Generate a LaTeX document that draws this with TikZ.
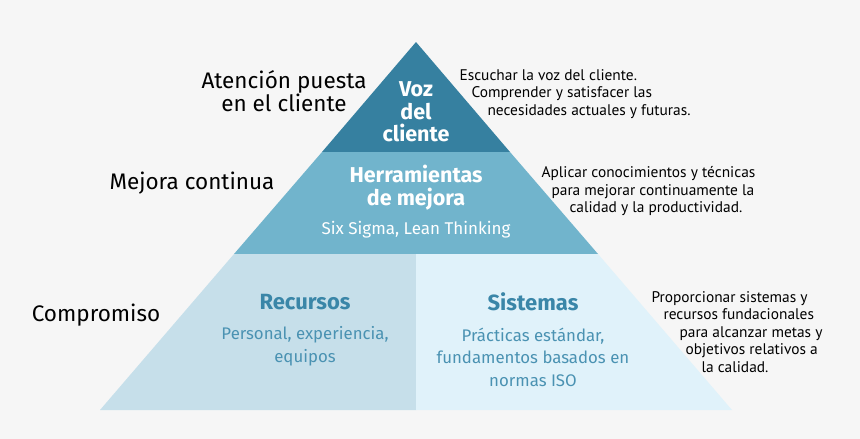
\documentclass[tikz,border=0pt]{standalone}
\usepackage{fontspec}
\setmainfont{Fira Sans}
\newfontfamily\condfont{PT Sans}
\definecolor{bgGray}{HTML}{F6F6F6}
\definecolor{tierTop}{HTML}{3680A0}
\definecolor{tierMid}{HTML}{71B4CC}
\definecolor{tierLeft}{HTML}{C6DFEA}
\definecolor{tierRight}{HTML}{E0F2FA}
\definecolor{titleBlue}{HTML}{3A86A8}
\definecolor{subBlue}{HTML}{4A92B2}
\begin{document}
\begin{tikzpicture}[x=1pt, y=-1pt,
    sidelbl/.style={font=\fontsize{22.5}{23}\selectfont, align=center},
    note/.style={font=\condfont\fontsize{15.4}{17.5}\selectfont, align=left, anchor=north west},
    wtitle/.style={text=white, font=\bfseries\fontsize{21.5}{22.5}\selectfont, align=center},
    btitle/.style={text=titleBlue, font=\bfseries\fontsize{22}{22}\selectfont, align=center},
    bsub/.style={text=subBlue, font=\fontsize{16.8}{22.5}\selectfont, align=center}]
    \useasboundingbox (0,0) rectangle (860,439);
    \fill[bgGray] (0,0) rectangle (860,439);
    % pyramid tiers
    \fill[tierTop] (416,42) -- (510,152) -- (322,152) -- cycle;
    \fill[tierMid] (322,152) -- (510,152) -- (598,254) -- (234,254) -- cycle;
    \fill[tierLeft] (234,254) -- (416,254) -- (416,410) -- (100,410) -- cycle;
    \fill[tierRight] (416,254) -- (598,254) -- (732,410) -- (416,410) -- cycle;
    % texts inside
    \node[wtitle] (voz) at (416,112) {Voz\\del\\cliente};
    \node[wtitle, font=\bfseries\fontsize{21.5}{23}\selectfont] (herr) at (416,188) {Herramientas\\de mejora};
    \node[text=white, font=\fontsize{17}{17}\selectfont] (six) at (416,230) {Six Sigma, Lean Thinking};
    \node[btitle] (rec) at (305,302) {Recursos};
    \node[bsub] (recsub) at (305,346) {Personal, experiencia,\\equipos};
    \node[btitle] (sis) at (533,302) {Sistemas};
    \node[bsub] (sissub) at (533,357) {Prácticas estándar,\\fundamentos basados en\\normas ISO};
    % labels left
    \node[sidelbl] (aten) at (284,91) {Atención puesta\\en el cliente};
    \node[sidelbl] (mej) at (192,183) {Mejora continua};
    \node[sidelbl] (comp) at (96,315) {Compromiso};
    % notes right
    \node[note] (n1) at (456,66) {Escuchar la voz del cliente.\\\hspace{12pt}Comprender y satisfacer las\\\hspace{28pt}necesidades actuales y futuras.};
    \node[note] (n2) at (538,163) {Aplicar conocimientos y técnicas\\\hspace{10pt}para mejorar continuamente la\\\hspace{28pt}calidad y la productividad.};
    \node[note] (n3) at (648,288) {Proporcionar sistemas y\\\hspace{12pt}recursos fundacionales\\\hspace{28pt}para alcanzar metas y\\\hspace{34pt}objetivos relativos a\\\hspace{50pt}la calidad.};
\end{tikzpicture}
\end{document}
